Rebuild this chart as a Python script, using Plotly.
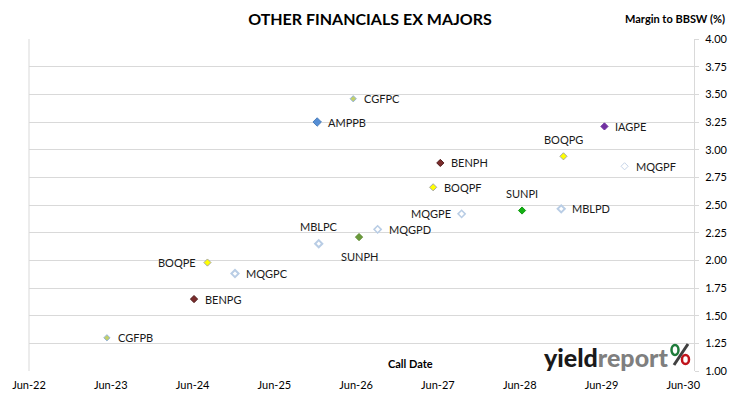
import plotly.graph_objects as go

# ---- data ----
securities = ["CGFPB", "BENPG", "BOQPE", "MQGPC", "AMPPB", "MBLPC", "CGFPC", "SUNPH",
              "MQGPD", "BOQPF", "BENPH", "MQGPE", "SUNPI", "MBLPD", "BOQPG", "IAGPE", "MQGPF"]
call_dates = ["2023-06-13", "2024-07-06", "2024-09-04", "2025-01-05", "2026-01-07", "2026-01-14",
              "2026-06-17", "2026-07-13", "2026-10-04", "2027-06-09", "2027-07-11", "2027-10-14",
              "2028-07-10", "2029-01-01", "2029-01-11", "2029-07-13", "2029-10-11"]
margins = [1.30, 1.65, 1.98, 1.88, 3.25, 2.15, 3.46, 2.21,
           2.28, 2.66, 2.88, 2.42, 2.45, 2.465, 2.94, 3.21, 2.85]

tick_dates = ["2022-06-30", "2023-06-30", "2024-06-30", "2025-06-30", "2026-06-30",
              "2027-06-30", "2028-06-30", "2029-06-30", "2030-06-30"]
tick_labels = ["Jun-22", "Jun-23", "Jun-24", "Jun-25", "Jun-26", "Jun-27", "Jun-28", "Jun-29", "Jun-30"]
y_ticks = [1.00, 1.25, 1.50, 1.75, 2.00, 2.25, 2.50, 2.75, 3.00, 3.25, 3.50, 3.75, 4.00]

# ---- styles ----
styles = {
    "CGFPB": dict(fill="#c3d069", line="#95b3d7", lw=1, size=4.8),
    "CGFPC": dict(fill="#c3d069", line="#95b3d7", lw=1, size=4.8),
    "AMPPB": dict(fill="#558ed5", line="#4a7ebb", lw=1, size=6.5),
    "BENPG": dict(fill="#7b2c2c", line="#4f1b1b", lw=1, size=5.5),
    "BENPH": dict(fill="#7b2c2c", line="#4f1b1b", lw=1, size=5.5),
    "BOQPE": dict(fill="#ffff00", line="#a6a6a6", lw=1, size=5.5),
    "BOQPF": dict(fill="#ffff00", line="#a6a6a6", lw=1, size=5.5),
    "BOQPG": dict(fill="#ffff00", line="#a6a6a6", lw=1, size=5.5),
    "IAGPE": dict(fill="#7030a0", line="#7030a0", lw=1, size=5.5),
    "MQGPC": dict(fill="#ffffff", line="#b9cde5", lw=2, size=5.5),
    "MQGPD": dict(fill="#ffffff", line="#b9cde5", lw=1.5, size=5.5),
    "MQGPE": dict(fill="#ffffff", line="#b9cde5", lw=1.5, size=5.5),
    "MQGPF": dict(fill="#ffffff", line="#c6d4e8", lw=1, size=5.5),
    "MBLPC": dict(fill="#ffffff", line="#b9cde5", lw=2, size=5.5),
    "MBLPD": dict(fill="#ffffff", line="#b9cde5", lw=2, size=5.5),
    "SUNPH": dict(fill="#6a9a3a", line="#5c8a30", lw=1, size=5.5),
    "SUNPI": dict(fill="#13b013", line="#0f9a0f", lw=1, size=5.5),
}
label_pos = {
    "MQGPE": "left", "BOQPE": "left",
    "MBLPC": "top", "BOQPG": "top", "SUNPI": "top",
    "SUNPH": "bottom",
}

FONT = "Lato, 'Open Sans', Arial, sans-serif"
GRID = "#d9d9d9"
W, H = 730, 399

fig = go.Figure()
annotations = []
for name, d, m in zip(securities, call_dates, margins):
    s = styles[name]
    fig.add_trace(go.Scatter(
        x=[d], y=[m], mode="markers", name=name,
        marker=dict(symbol="diamond", size=s["size"], color=s["fill"],
                    line=dict(color=s["line"], width=s["lw"])),
        showlegend=False, hoverinfo="text", text=[name]))
    pos = label_pos.get(name, "right")
    if pos == "right":
        a = dict(xanchor="left", yanchor="middle", xshift=9, yshift=0)
    elif pos == "left":
        a = dict(xanchor="right", yanchor="middle", xshift=-9, yshift=0)
    elif pos == "top":
        a = dict(xanchor="center", yanchor="middle", xshift=0, yshift=17)
    else:
        a = dict(xanchor="center", yanchor="middle", xshift=0, yshift=-19)
    annotations.append(dict(x=d, y=m, xref="x", yref="y", text=name, showarrow=False,
                            font=dict(family=FONT, size=11, color="#1a1a1a"), **a))


def px(xp):
    return (xp - 29.3) / 664.7


def py(yp):
    return (371 - yp) / 332


# axis titles / headings
annotations.append(dict(x=px(727), y=py(19), xref="paper", yref="paper", xanchor="right", yanchor="middle",
                        text="<b>Margin to BBSW (%)</b>", showarrow=False,
                        font=dict(family=FONT, size=11, color="#000000")))
annotations.append(dict(x=px(411), y=py(363), xref="paper", yref="paper", xanchor="center", yanchor="middle",
                        text="<b>Call Date</b>", showarrow=False,
                        font=dict(family=FONT, size=11, color="#000000")))
# logo text
annotations.append(dict(x=px(542), y=py(357), xref="paper", yref="paper",
                        xanchor="left", yanchor="middle",
                        text="yield<span style='color:#7f7f7f'>report</span>",
                        showarrow=False, font=dict(family=FONT, size=25, color="#1a1a1a", weight=900)))

shapes = [
    dict(type="line", xref="paper", yref="paper", x0=0, x1=0, y0=0, y1=1,
         line=dict(color=GRID, width=1)),
    # logo percent sign
    dict(type="line", xref="paper", yref="paper", x0=px(688), y0=py(344), x1=px(674), y1=py(365),
         line=dict(color="#404040", width=3)),
    dict(type="circle", xref="paper", yref="paper", x0=px(671.5), x1=px(678.5), y0=py(355), y1=py(345),
         fillcolor="#ffffff", line=dict(color="#1e7b3a", width=2.5)),
    dict(type="circle", xref="paper", yref="paper", x0=px(682), x1=px(689), y0=py(364), y1=py(355),
         fillcolor="#ffffff", line=dict(color="#c0141c", width=2.5)),
]

fig.update_layout(
    width=W, height=H,
    margin=dict(l=29, r=W - 694, t=39, b=H - 371, autoexpand=False),
    paper_bgcolor="#ffffff", plot_bgcolor="#ffffff",
    title=dict(text="<b>OTHER FINANCIALS EX MAJORS</b>", x=370 / W, xanchor="center",
               y=1 - 19 / H, yanchor="middle",
               font=dict(family=FONT, size=16, color="#000000")),
    xaxis=dict(type="date", range=["2022-06-30", "2030-08-17"],
               tickmode="array", tickvals=tick_dates, ticktext=tick_labels,
               showgrid=False, zeroline=False, showline=False, ticks="",
               tickfont=dict(family=FONT, size=11, color="#000000"),
               ticklabelstandoff=6, automargin=False),
    yaxis=dict(range=[1, 4], side="right", tickmode="array", tickvals=y_ticks,
               tickformat=".2f", showgrid=True, gridcolor=GRID, gridwidth=1,
               zeroline=False, showline=True, linecolor=GRID, linewidth=1,
               ticks="outside", ticklen=4, tickcolor=GRID,
               tickfont=dict(family=FONT, size=11, color="#000000"),
               ticklabelstandoff=4, automargin=False),
    annotations=annotations,
    shapes=shapes,
    showlegend=False,
)

fig.write_html(
    "out.html",
    config={"displayModeBar": False},
    post_script="document.body.style.margin='0';document.body.style.overflow='hidden';",
)
